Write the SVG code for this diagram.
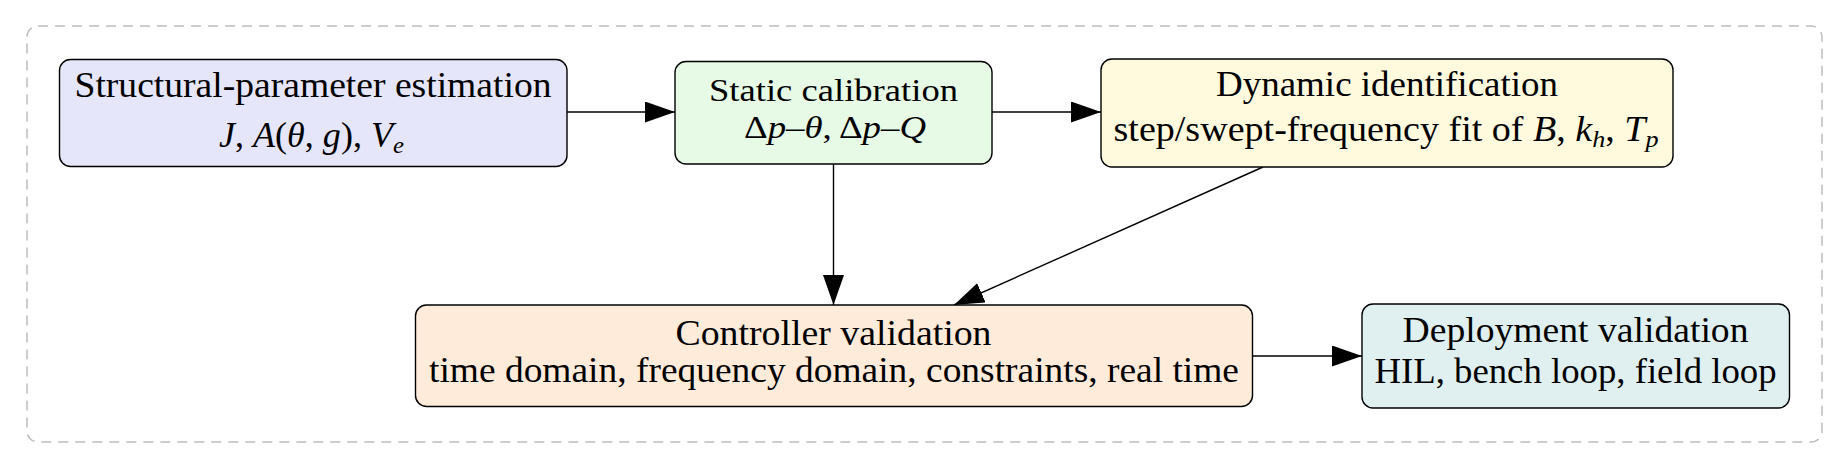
<svg xmlns="http://www.w3.org/2000/svg" width="1848" height="467" viewBox="0 0 1848 467">
<style>
.frame{fill:none;stroke:#bdbdbd;stroke-width:1.5;stroke-dasharray:10 7}
.box{stroke:#000;stroke-width:1.4}
.t{font-family:"Liberation Serif","Times New Roman",serif;font-size:35px;fill:#000;text-anchor:middle}
.s{font-size:31px}
.i{font-style:italic}
.sub{font-size:24px;font-style:italic}
.c{fill:none;stroke:#000;stroke-width:1.4}
</style>
<defs>
<marker id="ah" markerUnits="userSpaceOnUse" markerWidth="32" markerHeight="22" refX="30" refY="10.5" orient="auto">
<path d="M0,0 L30,10.5 L0,21 Z" fill="#000"/>
</marker>
</defs>
<rect class="frame" x="27" y="26" width="1795" height="416" rx="11"/>
<g id="connectors">
<line class="c" x1="567" y1="112" x2="675" y2="112" marker-end="url(#ah)"/>
<line class="c" x1="992" y1="112" x2="1101" y2="112" marker-end="url(#ah)"/>
<line class="c" x1="833.5" y1="164" x2="833.5" y2="305" marker-end="url(#ah)"/>
<line class="c" x1="1263" y1="167" x2="954" y2="305" marker-end="url(#ah)"/>
<line class="c" x1="1252.5" y1="356" x2="1362" y2="356" marker-end="url(#ah)"/>
</g>
<g id="n1">
<rect class="box" x="59.5" y="59.5" width="507.5" height="107" rx="11" fill="#e6e6fa"/>
<text class="t" x="313" y="97" textLength="477" lengthAdjust="spacingAndGlyphs">Structural-parameter estimation</text>
<text class="t" x="311.5" y="147" textLength="185" lengthAdjust="spacingAndGlyphs"><tspan class="i">J</tspan>, <tspan class="i">A</tspan>(<tspan class="i">θ</tspan>, <tspan class="i">g</tspan>), <tspan class="i">V</tspan><tspan class="sub" dy="6">e</tspan></text>
</g>
<g id="n2">
<rect class="box" x="675" y="61.5" width="317" height="102.5" rx="11" fill="#e6fae6"/>
<text class="t s" x="833.5" y="101" textLength="249" lengthAdjust="spacingAndGlyphs">Static calibration</text>
<text class="t s" x="835" y="138" textLength="182" lengthAdjust="spacingAndGlyphs">Δ<tspan class="i">p</tspan>–<tspan class="i">θ</tspan>, Δ<tspan class="i">p</tspan>–<tspan class="i">Q</tspan></text>
</g>
<g id="n3">
<rect class="box" x="1101" y="59" width="572" height="108" rx="11" fill="#fffade"/>
<text class="t" x="1387" y="96" textLength="342" lengthAdjust="spacingAndGlyphs">Dynamic identification</text>
<text class="t" x="1386" y="141" textLength="545" lengthAdjust="spacingAndGlyphs">step/swept-frequency fit of <tspan class="i">B</tspan>, <tspan class="i">k</tspan><tspan class="sub" dy="6">h</tspan><tspan dy="-6">, </tspan><tspan class="i">T</tspan><tspan class="sub" dy="6">p</tspan></text>
</g>
<g id="n4">
<rect class="box" x="415.5" y="305" width="837" height="101.5" rx="11" fill="#ffebd9"/>
<text class="t" x="833.5" y="345" textLength="316" lengthAdjust="spacingAndGlyphs">Controller validation</text>
<text class="t" x="834" y="382" textLength="810" lengthAdjust="spacingAndGlyphs">time domain, frequency domain, constraints, real time</text>
</g>
<g id="n5">
<rect class="box" x="1362" y="304" width="427.5" height="104" rx="11" fill="#e0f0f0"/>
<text class="t" x="1575.5" y="342" textLength="346" lengthAdjust="spacingAndGlyphs">Deployment validation</text>
<text class="t" x="1575.5" y="383" textLength="402" lengthAdjust="spacingAndGlyphs">HIL, bench loop, field loop</text>
</g>
</svg>
